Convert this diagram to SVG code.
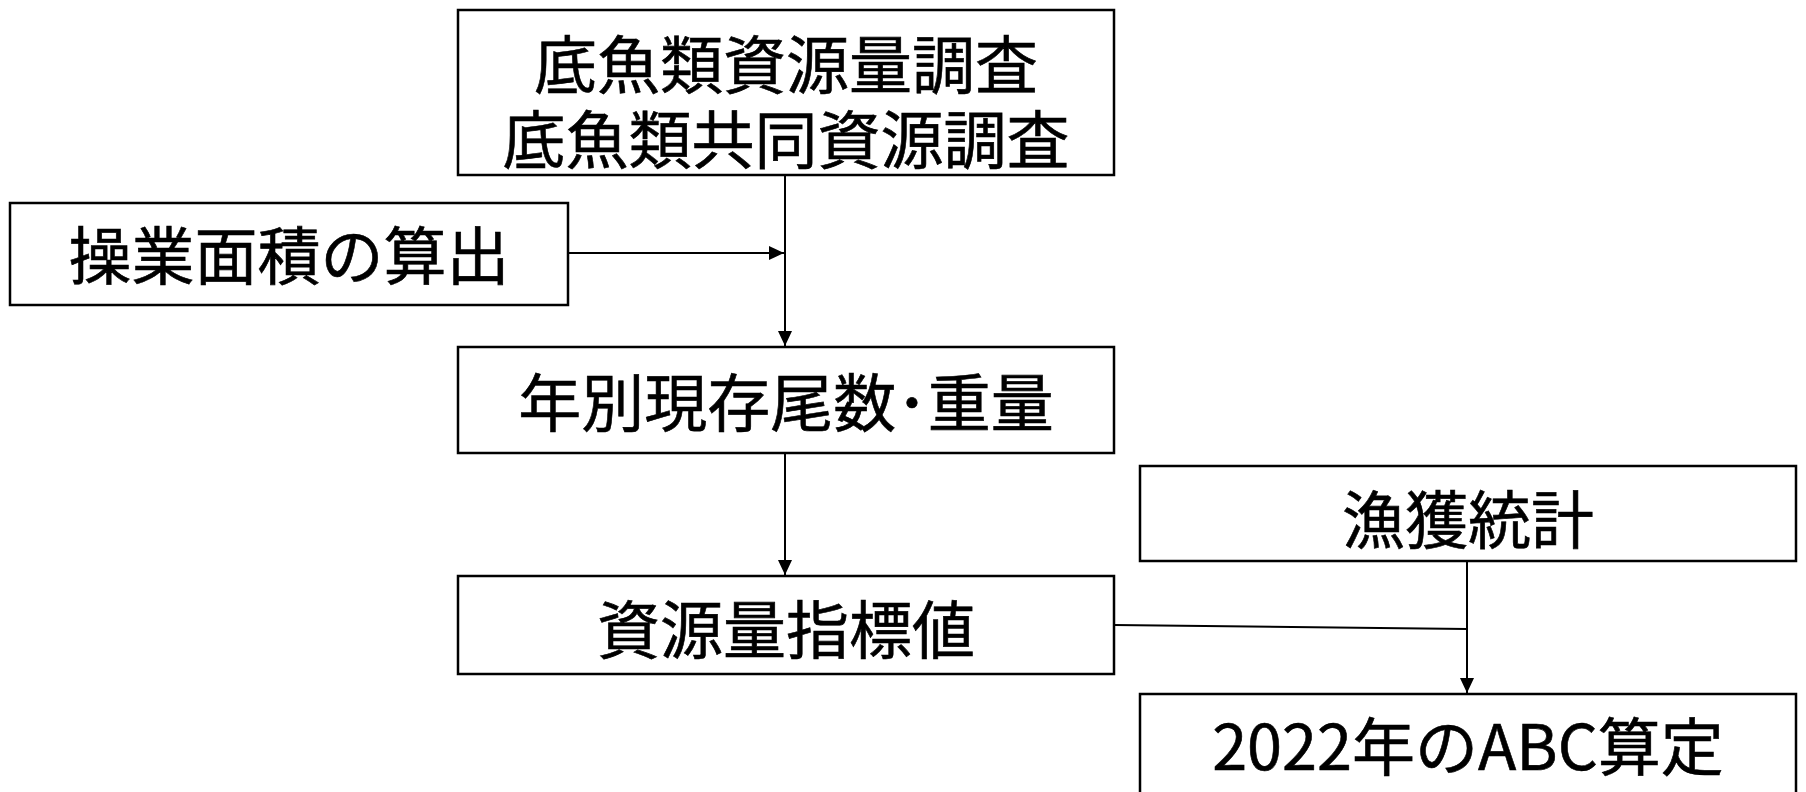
<svg xmlns="http://www.w3.org/2000/svg" width="1806" height="792" viewBox="0 0 1806 792">
<style>
.box{fill:#fff;stroke:#000;stroke-width:2.5}
.lbl{font-family:"Noto Sans CJK JP","Liberation Sans",sans-serif;font-size:63px;fill:#000;stroke:#000;stroke-width:0.6;text-anchor:middle}
.con{stroke:#000;stroke-width:2;fill:none}
</style>
<defs>
<marker id="arr" markerUnits="userSpaceOnUse" markerWidth="16" markerHeight="14" refX="15" refY="7" orient="auto">
<path d="M0,0 L15,7 L0,14 z" fill="#000"/>
</marker>
</defs>
<rect width="1806" height="792" fill="#fff"/>
<g id="connectors">
<line class="con" x1="785" y1="175" x2="785" y2="346" marker-end="url(#arr)"/>
<line class="con" x1="568" y1="253" x2="784" y2="253" marker-end="url(#arr)"/>
<line class="con" x1="785" y1="453" x2="785" y2="575" marker-end="url(#arr)"/>
<line class="con" x1="1114" y1="625" x2="1467" y2="629"/>
<line class="con" x1="1467" y1="561" x2="1467" y2="693" marker-end="url(#arr)"/>
</g>
<g id="node1">
<rect class="box" x="458" y="10" width="656" height="165"/>
<text class="lbl" x="786" y="88">底魚類資源量調査<tspan x="786" dy="75">底魚類共同資源調査</tspan></text>
</g>
<g id="node2">
<rect class="box" x="10" y="203" width="558" height="102"/>
<text class="lbl" x="289" y="279">操業面積の算出</text>
</g>
<g id="node3">
<rect class="box" x="458" y="347" width="656" height="106"/>
<text class="lbl" x="786" y="426">年別現存尾数･重量</text>
</g>
<g id="node4">
<rect class="box" x="1140" y="466" width="656" height="95"/>
<text class="lbl" x="1468" y="543">漁獲統計</text>
</g>
<g id="node5">
<rect class="box" x="458" y="576" width="656" height="98"/>
<text class="lbl" x="786" y="653">資源量指標値</text>
</g>
<g id="node6">
<rect class="box" x="1140" y="694" width="656" height="110"/>
<text class="lbl" x="1468" y="770">2022年のABC算定</text>
</g>
</svg>
